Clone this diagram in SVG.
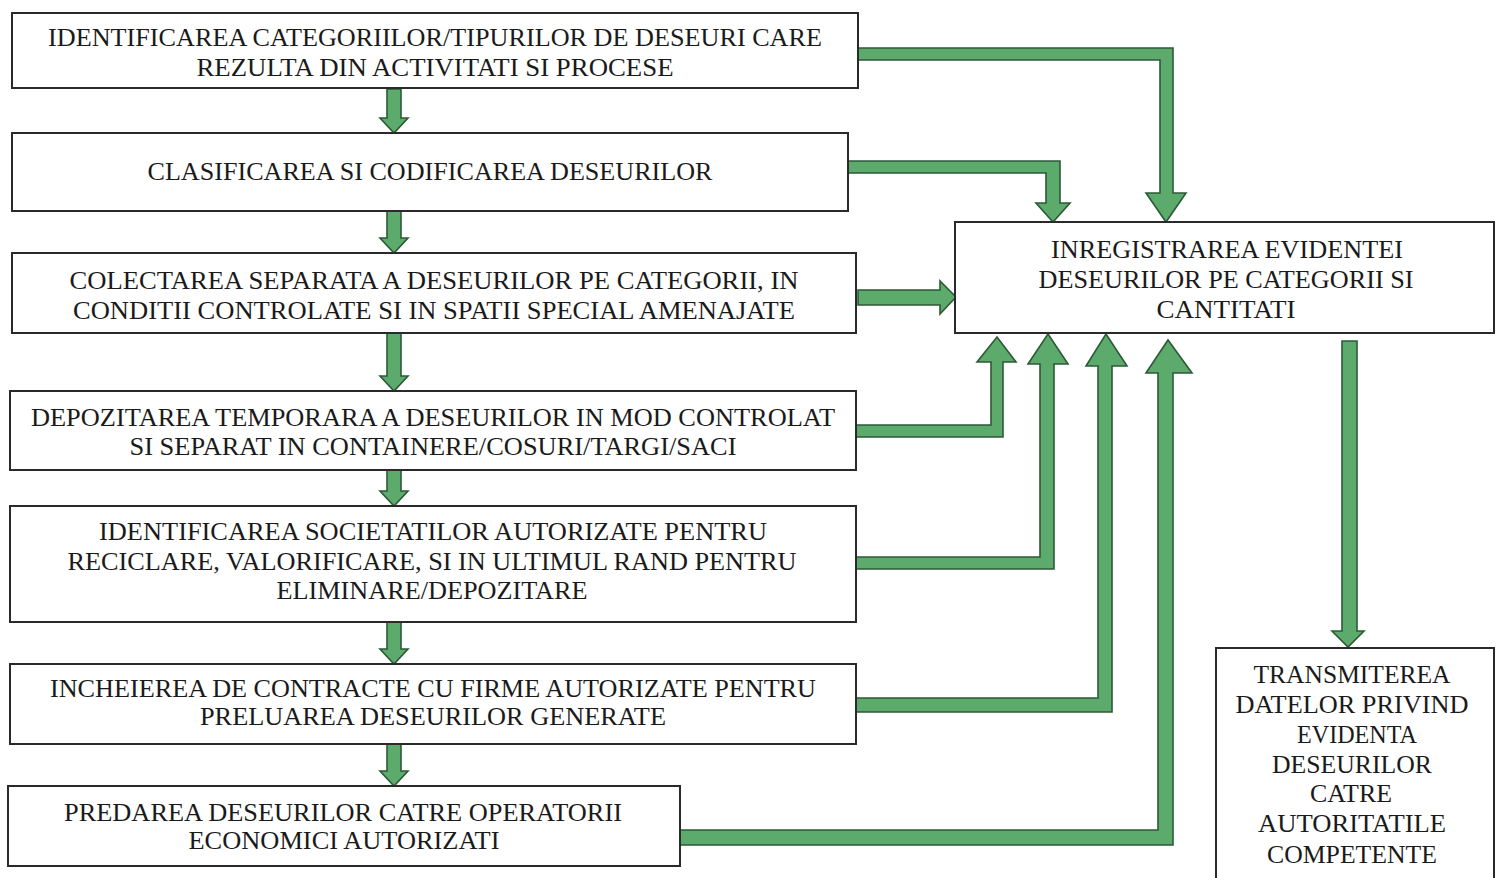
<svg xmlns="http://www.w3.org/2000/svg" width="1504" height="878" viewBox="0 0 1504 878">
<style>
.box{fill:#fff;stroke:#2a2a2a;stroke-width:2}
.t{font-family:"Liberation Serif","Times New Roman",serif;font-size:26px;fill:#1a1a1a;text-anchor:middle}
.arr{fill:#5dab6c;stroke:#2c5a37;stroke-width:1.6;stroke-linejoin:miter}
</style>
<rect width="1504" height="878" fill="#fff"/>
<g id="connectors">
<path class="arr" d="M387,89 H401 V118 H408 L394,133 L380,118 H387 Z"/>
<path class="arr" d="M387,211 H401 V238 H408 L394,253 L380,238 H387 Z"/>
<path class="arr" d="M387,333 H401 V376 H408 L394,391 L380,376 H387 Z"/>
<path class="arr" d="M387,470 H401 V491 H408 L394,506 L380,491 H387 Z"/>
<path class="arr" d="M387,622 H401 V649 H408 L394,664 L380,649 H387 Z"/>
<path class="arr" d="M387,744 H401 V771 H408 L394,786 L380,771 H387 Z"/>
<path class="arr" d="M858,48 H1173 V193 H1186 L1166,222 L1146,193 H1160 V60 H858 Z"/>
<path class="arr" d="M848,161 H1060 V203 H1070 L1053,222 L1036,203 H1046 V173 H848 Z"/>
<path class="arr" d="M858,290 H940 V281 L956,297 L940,314 V305 H858 Z"/>
<path class="arr" d="M856,425 H991 V362 H977 L997,337 L1016,362 H1003 V437 H856 Z"/>
<path class="arr" d="M856,557 H1040 V364 H1028 L1048,334 L1068,364 H1054 V569 H856 Z"/>
<path class="arr" d="M856,698 H1098 V366 H1086 L1106,334 L1127,366 H1112 V712 H856 Z"/>
<path class="arr" d="M680,830 H1158 V373 H1146 L1168,340 L1192,373 H1173 V845 H680 Z"/>
<path class="arr" d="M1342,341 H1357 V631 H1364 L1348,647 L1332,631 H1342 Z"/>
</g>
<g id="n1"><rect class="box" x="12" y="13" width="846" height="75"/>
<text class="t" x="435" y="46" textLength="774" lengthAdjust="spacingAndGlyphs">IDENTIFICAREA CATEGORIILOR/TIPURILOR DE DESEURI CARE</text>
<text class="t" x="435" y="76" textLength="477" lengthAdjust="spacingAndGlyphs">REZULTA DIN ACTIVITATI SI PROCESE</text></g>
<g id="n2"><rect class="box" x="12" y="133" width="836" height="78"/>
<text class="t" x="430" y="180" textLength="565" lengthAdjust="spacingAndGlyphs">CLASIFICAREA SI CODIFICAREA DESEURILOR</text></g>
<g id="n3"><rect class="box" x="12" y="253" width="844" height="80"/>
<text class="t" x="434" y="289" textLength="729" lengthAdjust="spacingAndGlyphs">COLECTAREA SEPARATA A DESEURILOR PE CATEGORII, IN</text>
<text class="t" x="434" y="319" textLength="722" lengthAdjust="spacingAndGlyphs">CONDITII CONTROLATE SI IN SPATII SPECIAL AMENAJATE</text></g>
<g id="n4"><rect class="box" x="10" y="391" width="846" height="79"/>
<text class="t" x="433" y="426" textLength="804" lengthAdjust="spacingAndGlyphs">DEPOZITAREA TEMPORARA A DESEURILOR IN MOD CONTROLAT</text>
<text class="t" x="433" y="455" textLength="607" lengthAdjust="spacingAndGlyphs">SI SEPARAT IN CONTAINERE/COSURI/TARGI/SACI</text></g>
<g id="n5"><rect class="box" x="10" y="506" width="846" height="116"/>
<text class="t" x="433" y="540" textLength="668" lengthAdjust="spacingAndGlyphs">IDENTIFICAREA SOCIETATILOR AUTORIZATE PENTRU</text>
<text class="t" x="432" y="570" textLength="729" lengthAdjust="spacingAndGlyphs">RECICLARE, VALORIFICARE, SI IN ULTIMUL RAND PENTRU</text>
<text class="t" x="432" y="599" textLength="311" lengthAdjust="spacingAndGlyphs">ELIMINARE/DEPOZITARE</text></g>
<g id="n6"><rect class="box" x="10" y="664" width="846" height="80"/>
<text class="t" x="433" y="697" textLength="766" lengthAdjust="spacingAndGlyphs">INCHEIEREA DE CONTRACTE CU FIRME AUTORIZATE PENTRU</text>
<text class="t" x="433" y="725" textLength="466" lengthAdjust="spacingAndGlyphs">PRELUAREA DESEURILOR GENERATE</text></g>
<g id="n7"><rect class="box" x="8" y="786" width="672" height="80"/>
<text class="t" x="343" y="821" textLength="558" lengthAdjust="spacingAndGlyphs">PREDAREA DESEURILOR CATRE OPERATORII</text>
<text class="t" x="344" y="849" textLength="311" lengthAdjust="spacingAndGlyphs">ECONOMICI AUTORIZATI</text></g>
<g id="n8"><rect class="box" x="955" y="222" width="539" height="111"/>
<text class="t" x="1227" y="258" textLength="352" lengthAdjust="spacingAndGlyphs">INREGISTRAREA EVIDENTEI</text>
<text class="t" x="1226" y="288" textLength="375" lengthAdjust="spacingAndGlyphs">DESEURILOR PE CATEGORII SI</text>
<text class="t" x="1226" y="318" textLength="139" lengthAdjust="spacingAndGlyphs">CANTITATI</text></g>
<g id="n9"><rect class="box" x="1216" y="648" width="278" height="240"/>
<text class="t" x="1352" y="683" textLength="197" lengthAdjust="spacingAndGlyphs">TRANSMITEREA</text>
<text class="t" x="1352" y="713" textLength="233" lengthAdjust="spacingAndGlyphs">DATELOR PRIVIND</text>
<text class="t" x="1357" y="743" textLength="120" lengthAdjust="spacingAndGlyphs">EVIDENTA</text>
<text class="t" x="1352" y="773" textLength="160" lengthAdjust="spacingAndGlyphs">DESEURILOR</text>
<text class="t" x="1351" y="802" textLength="82" lengthAdjust="spacingAndGlyphs">CATRE</text>
<text class="t" x="1352" y="832" textLength="188" lengthAdjust="spacingAndGlyphs">AUTORITATILE</text>
<text class="t" x="1352" y="863" textLength="170" lengthAdjust="spacingAndGlyphs">COMPETENTE</text></g>
</svg>
